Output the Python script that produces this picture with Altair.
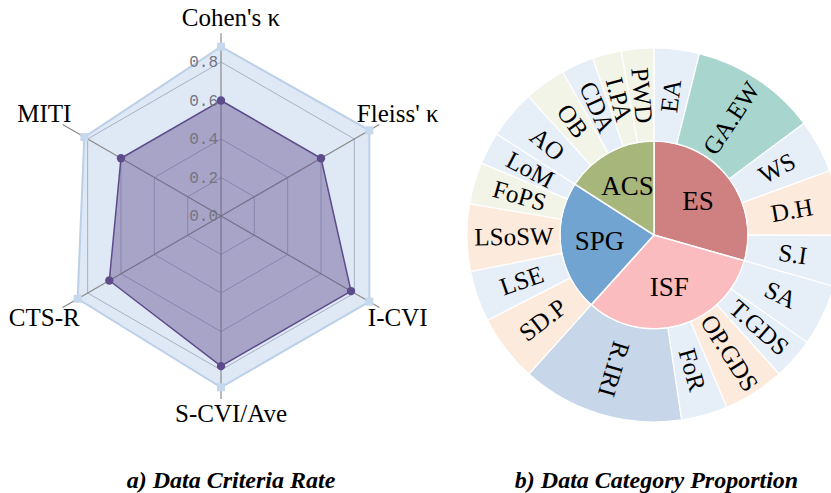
import math

import altair as alt
import pandas as pd

# ---------------- radar: data criteria rate ----------------
criteria = ["Cohen's κ", "Fleiss' κ", "I-CVI", "S-CVI/Ave", "CTS-R", "MITI"]
criteria_rate = [0.60, 0.60, 0.78, 0.78, 0.67, 0.60]
reference_rate = [0.88, 0.89, 0.89, 0.89, 0.86, 0.82]
grid_levels = [0.2, 0.4, 0.6, 0.8]
tick_values = [0.0, 0.2, 0.4, 0.6, 0.8]

# ---------------- sunburst: data category proportion ----------------
groups = ["ES", "ISF", "SPG", "ACS"]
group_colors = ["#cf8080", "#fabcbe", "#72a4d2", "#a7b67a"]
leaf_names = ["EA", "GA.EW", "WS", "D.H", "S.I",
              "SA", "T.GDS", "OP.GDS", "FoR", "R.IRI",
              "SD.P", "LSE", "LSoSW", "FoPS", "LoM",
              "AO", "OB", "CDA", "I.PA", "PWD"]
leaf_parents = ["ES"] * 5 + ["ISF"] * 5 + ["SPG"] * 5 + ["ACS"] * 5
leaf_share = [3.9, 10.9, 4.6, 5.6, 4.4,
              5.3, 3.6, 5.3, 4.0, 14.0,
              5.8, 4.4, 5.8, 3.6, 2.8,
              4.2, 3.6, 2.8, 2.5, 2.8]
leaf_tones = ["blue", "teal", "blue", "peach", "blue",
              "blue", "blue", "peach", "blue", "steel",
              "peach", "blue", "peach", "cream", "blue",
              "blue", "cream", "blue", "cream", "cream"]

TONES = {"blue": "#e6eef8", "peach": "#fceadc", "cream": "#f3f4e8",
         "teal": "#a8d6ce", "steel": "#c7d6e8"}

SERIF = "Liberation Serif"

# ---------------- radar geometry ----------------
n_axes = len(criteria)


def polar_xy(r, i):
    a = 2 * math.pi * i / n_axes
    return r * math.sin(a), r * math.cos(a)


series_rows = []
for series, values in (("reference", reference_rate), ("rate", criteria_rate)):
    for i, v in enumerate(values):
        x, y = polar_xy(v, i)
        series_rows.append({"series": series, "idx": i, "x": x, "y": y})
series_df = pd.DataFrame(series_rows)

ring_rows = []
for lvl in grid_levels:
    for i in range(n_axes):
        x, y = polar_xy(lvl, i)
        ring_rows.append({"level": lvl, "idx": i, "x": x, "y": y})
ring_df = pd.DataFrame(ring_rows)

spoke_rows = []
for i in range(n_axes):
    x2, y2 = polar_xy(0.95, i)
    spoke_rows.append({"x": 0.0, "y": 0.0, "x2": x2, "y2": y2})
spoke_df = pd.DataFrame(spoke_rows)

label_rows = []
for i, name in enumerate(criteria):
    vertical = (i * 360 // n_axes) % 180 == 0
    x, y = polar_xy(1.03 if vertical else 1.06, i)
    label_rows.append({"name": name, "x": x, "y": y,
                       "kind": "vertical" if vertical else "side"})
label_df = pd.DataFrame(label_rows)

tick_df = pd.DataFrame({"x": [0.0] * len(tick_values), "y": tick_values,
                        "label": [f"{v:.1f}" for v in tick_values]})

X_SCALE = alt.Scale(domain=[-1.1481, 1.1377], nice=False, zero=False)
Y_SCALE = alt.Scale(domain=[-1.1636, 1.1221], nice=False, zero=False)


def xy():
    return dict(x=alt.X("x:Q", scale=X_SCALE, axis=None),
                y=alt.Y("y:Q", scale=Y_SCALE, axis=None))


ref_area = alt.Chart(series_df).transform_filter(
    alt.datum.series == "reference"
).mark_line(
    interpolate="linear-closed", fill="#c8dbef", fillOpacity=0.6,
    stroke="#bcd0e8", strokeWidth=2
).encode(order=alt.Order("idx:Q"), **xy())

rings = alt.Chart(ring_df).mark_line(
    interpolate="linear-closed", stroke="#9aa3b5", strokeWidth=1, opacity=0.8
).encode(detail="level:N", order=alt.Order("idx:Q"), **xy())

spokes = alt.Chart(spoke_df).mark_rule(color="#8a8a8a", strokeWidth=1.2).encode(
    x2="x2:Q", y2="y2:Q", **xy()
)

rate_area = alt.Chart(series_df).transform_filter(
    alt.datum.series == "rate"
).mark_line(
    interpolate="linear-closed", fill="#5e4b8b", fillOpacity=0.43,
    stroke="#5e4b8b", strokeWidth=1.5
).encode(order=alt.Order("idx:Q"), **xy())

ticks = alt.Chart(tick_df).mark_text(
    align="right", baseline="middle", dx=-3, font="Liberation Mono",
    fontSize=16, color="#747482"
).encode(text="label:N", **xy())

ref_marks = alt.Chart(series_df).transform_filter(
    alt.datum.series == "reference"
).mark_square(size=64, color="#c5d8ee", opacity=1).encode(**xy())

rate_marks = alt.Chart(series_df).transform_filter(
    alt.datum.series == "rate"
).mark_circle(size=70, color="#5e4b8b", opacity=1).encode(**xy())

side_labels = alt.Chart(label_df).transform_filter(
    alt.datum.kind == "side"
).mark_text(font=SERIF, fontSize=25, color="black", align="center",
            baseline="middle").encode(text="name:N", **xy())

vertical_labels = alt.Chart(label_df).transform_filter(
    alt.datum.kind == "vertical"
).mark_text(font=SERIF, fontSize=25, color="black", align="center",
            baseline="middle", dx=10).encode(text="name:N", **xy())

radar = alt.layer(
    ref_area, rings, spokes, rate_area, ticks, ref_marks, rate_marks,
    side_labels, vertical_labels
).properties(
    width=440, height=440,
    title=alt.TitleParams(
        "a) Data Criteria Rate", orient="bottom", anchor="middle",
        frame="group", font=SERIF, fontSize=24, fontStyle="italic",
        fontWeight="bold", color="black", offset=29, dx=11
    ),
)

# ---------------- sunburst geometry ----------------
total = sum(leaf_share)


def label_rotation(mid):
    # radial labels, turned so they never read upside down
    return (mid - 90) % 360 if mid < 210 else (mid + 90) % 360


leaf_rows = []
acc = 0.0
for name, parent, share, tone in zip(leaf_names, leaf_parents, leaf_share, leaf_tones):
    t0 = acc / total * 360
    acc += share
    t1 = acc / total * 360
    mid = (t0 + t1) / 2
    leaf_rows.append({"name": name, "parent": parent, "t0": t0, "t1": t1,
                      "tm": mid, "rot": label_rotation(mid), "color": TONES[tone]})
leaf_df = pd.DataFrame(leaf_rows)

group_rows = []
acc = 0.0
for g, col in zip(groups, group_colors):
    share = sum(s for s, p in zip(leaf_share, leaf_parents) if p == g)
    t0 = acc / total * 360
    acc += share
    t1 = acc / total * 360
    group_rows.append({"name": g, "t0": t0, "t1": t1, "tm": (t0 + t1) / 2, "color": col})
group_df = pd.DataFrame(group_rows)

THETA = alt.Scale(domain=[0, 360], range=[0, 2 * math.pi])
CX, CY = 214, 235

inner_arc = alt.Chart(group_df).mark_arc(
    radius=94, stroke="white", strokeWidth=1.5
).encode(
    theta=alt.Theta("t0:Q", scale=THETA), theta2="t1:Q",
    color=alt.Color("color:N", scale=None),
    x=alt.value(CX), y=alt.value(CY),
)

outer_arc = alt.Chart(leaf_df).mark_arc(
    radius=187, radius2=94, stroke="white", strokeWidth=1.2, clip=True
).encode(
    theta=alt.Theta("t0:Q", scale=THETA), theta2="t1:Q",
    color=alt.Color("color:N", scale=None),
    x=alt.value(CX), y=alt.value(CY),
)

outer_text = alt.Chart(leaf_df).mark_text(
    radius=140, font=SERIF, fontSize=25, color="black",
    align="center", baseline="middle"
).encode(
    theta=alt.Theta("tm:Q", scale=THETA), text="name:N",
    angle=alt.Angle("rot:Q", scale=None),
    x=alt.value(CX), y=alt.value(CY),
)

inner_text = alt.Chart(group_df).mark_text(
    radius=55, font=SERIF, fontSize=27, color="black",
    align="center", baseline="middle"
).encode(
    theta=alt.Theta("tm:Q", scale=THETA), text="name:N",
    x=alt.value(CX), y=alt.value(CY),
)

sunburst = alt.layer(inner_arc, outer_arc, outer_text, inner_text).properties(
    width=391, height=440,
    title=alt.TitleParams(
        "b) Data Category Proportion", orient="bottom", anchor="middle",
        frame="group", font=SERIF, fontSize=24, fontStyle="italic",
        fontWeight="bold", color="black", offset=29, dx=21
    ),
)

chart = alt.hconcat(radar, sunburst, spacing=0).properties(
    padding=0, background="white"
).configure_view(stroke=None)

chart.save("out.html", embed_options={"renderer": "svg", "actions": False})
